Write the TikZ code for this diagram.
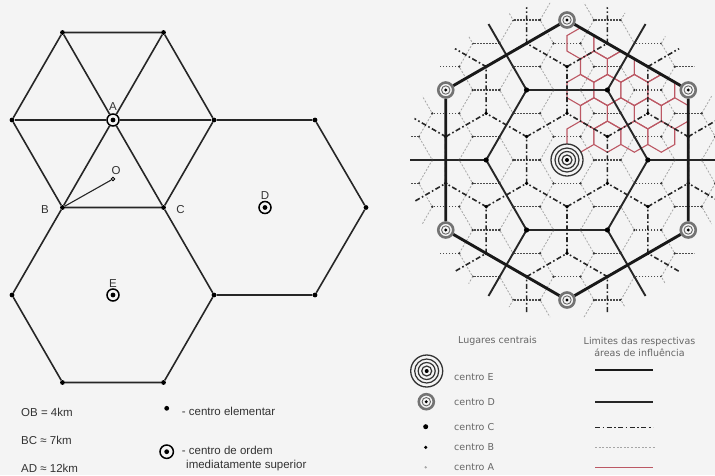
\documentclass[tikz,border=0pt]{standalone}
\usepackage{fontspec}
\setmainfont{Liberation Sans}
\newfontfamily\legfont{DejaVu Sans}
\usetikzlibrary{positioning}

\definecolor{bgcol}{RGB}{244,244,244}
\definecolor{redA}{RGB}{188,88,100}

\begin{document}
\begin{tikzpicture}[
    x=1pt, y=-1pt,
    node distance=2pt,
    edge/.style={line width=1.6pt, black!85},
    dot/.style={circle, fill=black, inner sep=0pt, minimum size=4.8pt},
    ctr/.style={circle, draw=black, fill=bgcol, line width=1.5pt, inner sep=0pt,
                minimum size=12pt,
                path picture={\fill[black] (path picture bounding box.center) circle (2.4);}},
    opt/.style={circle, draw=black, fill=bgcol, line width=0.8pt, inner sep=0pt,
                minimum size=3.6pt},
    lbl/.style={font=\fontsize{11.5}{13}\selectfont, text=black!80, inner sep=1pt},
    legtxt/.style={font=\legfont\fontsize{9.5}{12.6}\selectfont, text=black!60,
                   inner sep=0pt},
    bslant/.style={black!35, line width=0.8pt, dash pattern=on 2pt off 1.6pt},
    bflat/.style={black!70, line width=1.3pt, dash pattern=on 1.6pt off 1.4pt},
    aline/.style={redA, line width=1.1pt},
    cline/.style={black!85, line width=1.6pt,
                  dash pattern=on 5pt off 2.5pt on 1.6pt off 2.5pt},
    dline/.style={black!85, line width=1.9pt},
    eline/.style={black!90, line width=2.9pt},
    dsym/.style={circle, draw=black!55, fill=bgcol, line width=2.6pt, inner sep=0pt,
                 minimum size=15pt,
                 path picture={\draw[black!60, line width=0.9pt]
                     (path picture bounding box.center) circle (4.2);
                   \fill[black] (path picture bounding box.center) circle (1.6);}},
    esym/.style={circle, draw=black!80, fill=bgcol, line width=1.3pt, inner sep=0pt,
                 minimum size=32pt,
                 path picture={\draw[black!80, line width=1.2pt]
                     (path picture bounding box.center) circle (12) circle (8.5) circle (5);
                   \fill[black] (path picture bounding box.center) circle (2);}},
    cdot/.style={circle, fill=black, inner sep=0pt, minimum size=5pt},
    bdot/.style={circle, fill=black, inner sep=0pt, minimum size=3.5pt},
    adot/.style={circle, fill=black!35, inner sep=0pt, minimum size=2.6pt}
]
\useasboundingbox (0,0) rectangle (715,475);
\fill[bgcol] (0,0) rectangle (715,475);

% left: hexagons of the elementary centres
\node[dot] (t1) at (62.5,32.5) {};
\node[dot] (t2) at (163.5,32.5) {};
\node[dot] (l1) at (12,120) {};
\node[ctr] (A) at (113,120) {};
\node[dot] (r1) at (214,120) {};
\node[dot] (r2) at (315,120) {};
\node[dot] (B) at (62.5,207.5) {};
\node[dot] (C) at (163.5,207.5) {};
\node[ctr] (D) at (265,207.5) {};
\node[dot] (r3) at (366,207.5) {};
\node[dot] (l2) at (12,295) {};
\node[ctr] (E) at (113,295) {};
\node[dot] (r4) at (214,295) {};
\node[dot] (r5) at (315,295) {};
\node[dot] (b1) at (62.5,382.5) {};
\node[dot] (b2) at (163.5,382.5) {};
\node[opt] (O) at (113,179) {};

\draw[edge] (t1) -- (t2) -- (r1) -- (C) -- (B) -- (l1) -- (t1);
\foreach \v in {t1,t2,r1,C,B,l1}
  \draw[edge] (A) -- (\v);
\draw[edge] (r1) -- (r2) -- (r3) -- (r5) -- (r4) -- (C);
\draw[edge] (B) -- (l2) -- (b1) -- (b2) -- (r4);
\draw[line width=1.1pt, black!85] (B) -- (O);

\node[lbl, above=2pt of A] {A};
\node[lbl, left=10pt of B, yshift=-2pt] {B};
\node[lbl, right=9pt of C, yshift=-2pt] {C};
\node[lbl, above=0pt of D] {D};
\node[lbl, above=0pt of E] {E};
\node[lbl, above=1pt of O, xshift=3pt] {O};

\node[lbl, anchor=west] (ob) at (20,412) {OB = 4km};
\node[lbl, anchor=west] (bc) at (20,440) {BC ≈ 7km};
\node[lbl, anchor=west] (ad) at (20,468) {AD ≈ 12km};
\node[dot] (kel) at (166.7,408.3) {};
\node[lbl, anchor=west] at (180.7,411.5) {- centro elementar};
\node[ctr, minimum size=13.4pt] (kord) at (166.7,451.7) {};
\node[lbl, anchor=west] at (180.7,450.5) {- centro de ordem};
\node[lbl, anchor=west] at (185,466) {imediatamente superior};

% right: nested market areas round the centre E
\begin{scope}[shift={(567,160)}]
  \begin{scope}
    \clip (0,0) circle (158);
    \foreach \i in {-4,...,4}
      \foreach \j in {-6,...,6} {
        \draw[bslant, shift={({40.415*(\i)},{23.333*(\i)+46.667*(\j)})}]
          (60:26.943) -- (0:26.943) -- (-60:26.943);
        \draw[bflat, shift={({40.415*(\i)},{23.333*(\i)+46.667*(\j)})}]
          (-60:26.943) -- (-120:26.943);
      }
  \end{scope}
  \begin{scope}
    \clip (30:140) -- (90:140) -- (150:140) -- (210:140) -- (270:140) -- (330:140) -- cycle;
    \foreach \x/\y in {13.471/-23.333, 40.414/-23.333, 67.357/-23.333, 94.300/-23.333,
                       26.943/-46.667, 53.886/-46.667, 80.829/-46.667, 107.772/-46.667,
                       13.471/-70, 40.414/-70, 67.357/-70, 94.300/-70,
                       26.943/-93.333, 53.886/-93.333, 80.829/-93.333,
                       13.471/-116.667, 40.414/-116.667}
      \draw[aline, shift={(\x,\y)}] (30:15.556) -- (90:15.556) -- (150:15.556)
        -- (210:15.556) -- (270:15.556) -- (330:15.556) -- cycle;
  \end{scope}
  \begin{scope}
    \clip (0,0) circle (158);
    \foreach \i in {-4,...,4}
      \foreach \j in {-3,...,3}
        \draw[cline, shift={({80.829*(\i)+40.415*(\j)},{70*(\j)})}]
          (90:46.667) -- (30:46.667) -- (-30:46.667) -- (-90:46.667);
  \end{scope}

  \foreach \k in {0,...,5} {
    \coordinate (dv\k) at ({\k*60}:80.829);
    \coordinate (dw\k) at ({\k*60}:157);
  }
  \draw[dline] (dv0) -- (dv1) -- (dv2) -- (dv3) -- (dv4) -- (dv5) -- cycle;
  \foreach \k in {0,...,5}
    \draw[dline] (dv\k) -- (dw\k);

  \begin{scope}
    \clip (0,0) circle (150);
    \foreach \i in {-4,...,4}
      \foreach \j in {-6,...,6} {
        \fill[black!80] ({40.415*(\i)+26.943},{23.333*(\i)+46.667*(\j)}) circle (1.3);
        \fill[black!80] ({40.415*(\i)-26.943},{23.333*(\i)+46.667*(\j)}) circle (1.3);
        \fill ({40.415*(\i)},{23.333*(\i)+46.667*(\j)}) circle (1.9);
      }
    \foreach \i in {-4,...,4}
      \foreach \j in {-3,...,3}
        \fill ({80.829*(\i)+40.415*(\j)},{70*(\j)}) circle (2.6);
  \end{scope}

  \foreach \k in {1,...,6}
    \node[dsym] (d\k) at ({\k*60-30}:140) {};
  \node[esym] (Ec) at (0,0) {};
  \draw[eline] (d1) -- (d2) -- (d3) -- (d4) -- (d5) -- (d6) -- (d1);
\end{scope}

% right: legend
\node[legtxt] (lug) at (497.5,340.7) {Lugares centrais};
\node[legtxt, align=center] (lim) at (639.5,347) {Limites das respectivas\\áreas de influência};
\node[esym] (kE) at (426.7,371) {};
\node[dsym] (kD) at (426.3,401.7) {};
\node[cdot] (kC) at (425.7,426.7) {};
\node[bdot] (kB) at (425.7,447.3) {};
\node[adot] (kA) at (425.7,467.3) {};
\node[legtxt, anchor=west] at (454,376.7) {centro E};
\node[legtxt, anchor=west] at (454,401.7) {centro D};
\node[legtxt, anchor=west] at (454,426.7) {centro C};
\node[legtxt, anchor=west] at (454,447.3) {centro B};
\node[legtxt, anchor=west] at (454,467.3) {centro A};
\coordinate (eL) at (595,370);   \coordinate (eR) at (653,370);
\coordinate (dL) at (595,401.7); \coordinate (dR) at (653,401.7);
\coordinate (cL) at (595,427.3); \coordinate (cR) at (653,427.3);
\coordinate (bL) at (595,447.3); \coordinate (bR) at (655,447.3);
\coordinate (aL) at (595,467.3); \coordinate (aR) at (653,467.3);
\draw[eline] (eL) -- (eR);
\draw[dline] (dL) -- (dR);
\draw[cline] (cL) -- (cR);
\draw[bslant] (bL) -- (bR);
\draw[aline, line width=1.3pt] (aL) -- (aR);
\end{tikzpicture}
\end{document}
